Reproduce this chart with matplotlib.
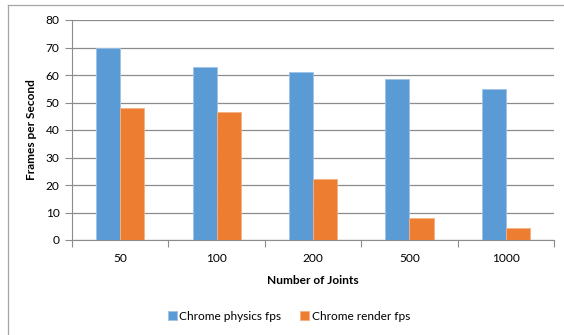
import matplotlib
matplotlib.use('Agg')
import matplotlib.pyplot as plt
import numpy as np

matplotlib.rcParams.update({'font.size': 8.6, 'font.family': ['Lato', 'DejaVu Sans']})

joints = ['50', '100', '200', '500', '1000']
physics_fps = [70, 62.8, 61, 58.4, 54.8]
render_fps = [48, 46.5, 22.1, 7.9, 4.2]

blue = '#5b9bd5'
orange = '#ed7d31'
grid_gray = '#8c8c8c'

fig = plt.figure(figsize=(5.64, 3.35), dpi=100)
ax = fig.add_axes([72 / 564, 1 - 240 / 335, 482 / 564, 220 / 335])

x = np.arange(len(joints))
w = 0.25
ax.bar(x - w / 2, physics_fps, w, color=blue, edgecolor='#9dc3e6', linewidth=0.6,
       label='Chrome physics fps', zorder=3)
ax.bar(x + w / 2, render_fps, w, color=orange, edgecolor='#f4b183', linewidth=0.6,
       label='Chrome render fps', zorder=3)

ax.set_xlim(-0.5, len(joints) - 0.5)
ax.set_ylim(0, 80)
ax.set_yticks(range(0, 81, 10))
ax.set_xticks(x)
ax.set_xticklabels(joints)
ax.set_xticks(np.arange(-0.5, len(joints)), minor=True)
ax.tick_params(axis='x', which='major', length=0, pad=9)
ax.tick_params(axis='x', which='minor', length=5, color=grid_gray, width=0.8)
ax.tick_params(axis='y', length=5, color=grid_gray, width=0.8, pad=4)
ax.yaxis.grid(True, color=grid_gray, linewidth=0.9, zorder=0)
ax.set_axisbelow(True)

for side in ['top', 'right']:
    ax.spines[side].set_visible(False)
for side in ['left', 'bottom']:
    ax.spines[side].set_color(grid_gray)
    ax.spines[side].set_linewidth(0.8)

ax.set_ylabel('Frames per Second', fontweight='bold', labelpad=6)
ax.set_xlabel('Number of Joints', fontweight='bold', labelpad=8)

fig.legend(loc='center', bbox_to_anchor=(289 / 564, 1 - 316 / 335), ncol=2,
           frameon=False, handlelength=0.75, handleheight=0.75, handletextpad=0.2,
           columnspacing=1.6)

# outer chart border
fig.add_artist(plt.Line2D([8 / 564, 8 / 564], [0, 1 - 5 / 335], color='#a6a6a6',
                          linewidth=0.9, transform=fig.transFigure))
fig.add_artist(plt.Line2D([8 / 564, 1], [1 - 5 / 335, 1 - 5 / 335], color='#a6a6a6',
                          linewidth=0.9, transform=fig.transFigure))

fig.savefig('out.png', dpi=100)
